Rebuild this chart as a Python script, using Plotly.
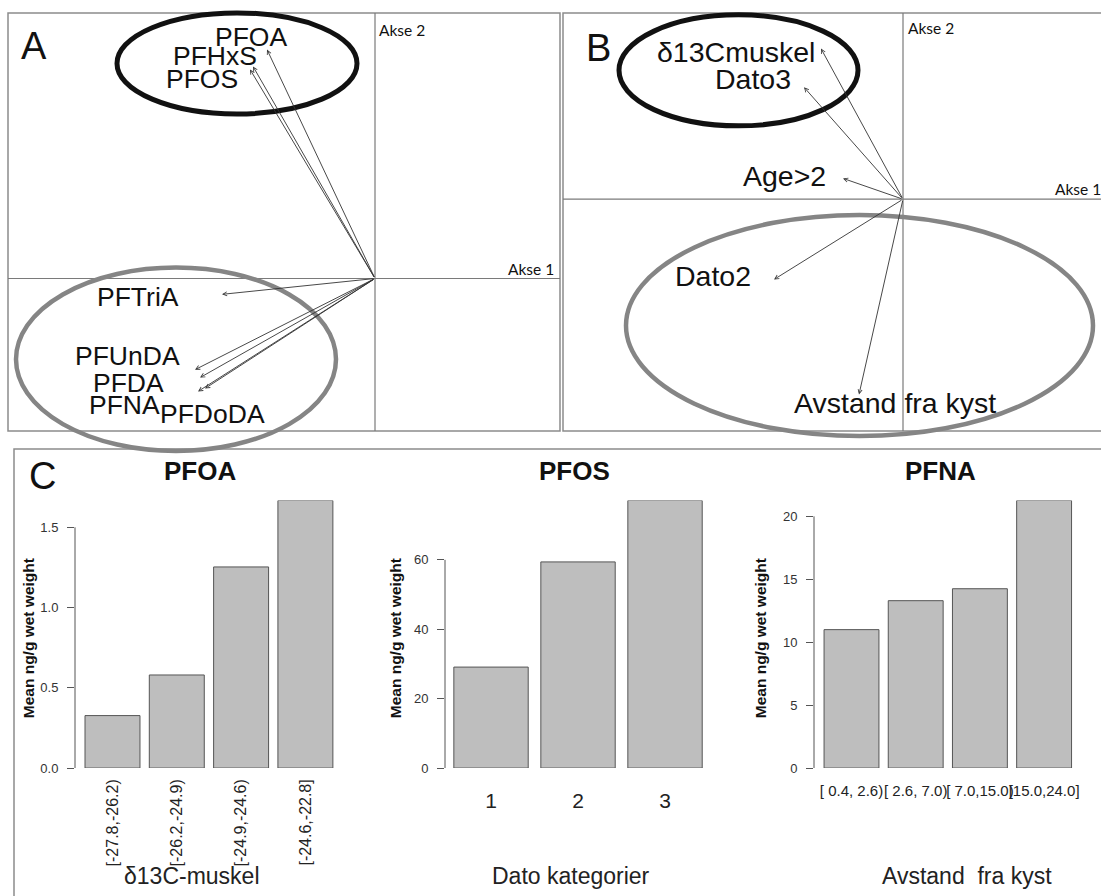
import plotly.graph_objects as go

W, H = 1101, 896
FONT = "Liberation Sans, Arial, sans-serif"

# ---------------- data ----------------
# Panel A: PCA loadings (Akse 1, Akse 2)
a_vars = ["PFOA", "PFHxS", "PFOS", "PFTriA", "PFUnDA", "PFDA", "PFNA", "PFDoDA"]
a_ax1 = [-0.54, -0.61, -0.625, -0.765, -0.90, -0.875, -0.885, -0.85]
a_ax2 = [1.155, 1.07, 1.055, -0.08, -0.46, -0.50, -0.57, -0.555]
a_lab_x = [-0.62, -0.80, -0.865, -1.185, -1.24, -1.235, -1.255, -0.815]
a_lab_y = [1.22, 1.12, 1.005, -0.095, -0.39, -0.525, -0.64, -0.685]

# Panel B: explanatory variables
b_vars = ["δ13Cmuskel", "Dato3", "Age>2", "Dato2", "Avstand fra kyst"]
b_ax1 = [-0.41, -0.495, -0.30, -0.645, -0.22]
b_ax2 = [0.76, 0.565, 0.105, -0.405, -0.985]
b_lab_x = [-0.835, -0.75, -0.595, -0.95, -0.04]
b_lab_y = [0.745, 0.605, 0.115, -0.385, -1.03]

# Group ellipses (x0, x1, y0, y1) in loading units
a_ellipses = [(-1.29, -0.09, 0.83, 1.34, "black"), (-1.795, -0.195, -0.87, 0.055, "gray")]
b_ellipses = [(-1.42, -0.225, 0.37, 0.93, "black"), (-1.385, 0.95, -1.195, -0.08, "gray")]

# Panel C: bar charts
pfoa_cats = ["[-27.8,-26.2)", "[-26.2,-24.9)", "[-24.9,-24.6)", "[-24.6,-22.8]"]
pfoa_vals = [0.327, 0.58, 1.253, 1.667]
pfoa_ticks = [0.0, 0.5, 1.0, 1.5]
pfoa_ticktext = ["0.0", "0.5", "1.0", "1.5"]

pfos_cats = ["1", "2", "3"]
pfos_vals = [29.1, 59.4, 77.1]
pfos_ticks = [0, 20, 40, 60]

pfna_cats = ["[ 0.4, 2.6)", "[ 2.6, 7.0)", "[ 7.0,15.0)", "[15.0,24.0]"]
pfna_vals = [11.0, 13.3, 14.25, 21.26]
pfna_ticks = [0, 5, 10, 15, 20]


def px(x):
    return x / W


def py(y):
    return 1 - y / H


fig = go.Figure()

# ---------------- bars ----------------
bar_style = dict(marker=dict(color="#BEBEBE", line=dict(color="#555555", width=1)), showlegend=False, hoverinfo="skip")
fig.add_trace(go.Bar(x=pfoa_cats, y=pfoa_vals, xaxis="x3", yaxis="y3", **bar_style))
fig.add_trace(go.Bar(x=pfos_cats, y=pfos_vals, xaxis="x4", yaxis="y4", **bar_style))
fig.add_trace(go.Bar(x=pfna_cats, y=pfna_vals, xaxis="x5", yaxis="y5", **bar_style))

# invisible anchors for biplot axes
fig.add_trace(go.Scatter(x=[0], y=[0], mode="markers", marker=dict(size=1, color="rgba(0,0,0,0)"),
                         xaxis="x", yaxis="y", showlegend=False, hoverinfo="skip"))
fig.add_trace(go.Scatter(x=[0], y=[0], mode="markers", marker=dict(size=1, color="rgba(0,0,0,0)"),
                         xaxis="x2", yaxis="y2", showlegend=False, hoverinfo="skip"))

hidden = dict(visible=False, fixedrange=True)
bar_y_common = dict(showgrid=False, zeroline=False, showline=False, ticks="outside", ticklen=7,
                    tickcolor="#555555", tickwidth=1, tickfont=dict(family=FONT, size=13, color="#333333"),
                    ticklabelstandoff=6)
bar_x_common = dict(showgrid=False, zeroline=False, showline=False, ticks="")

fig.update_layout(
    width=W, height=H, margin=dict(l=0, r=0, t=0, b=0),
    paper_bgcolor="white", plot_bgcolor="rgba(0,0,0,0)", showlegend=False,
    bargap=0.145,
    # Panel A biplot
    xaxis=dict(domain=[px(0), px(562)], range=[-1.875, 0.935], anchor="y", **hidden),
    yaxis=dict(domain=[py(470), py(0)], range=[-0.945, 1.405], anchor="x", **hidden),
    # Panel B biplot
    xaxis2=dict(domain=[px(562), px(1101)], range=[-1.705, 0.99], anchor="y2", **hidden),
    yaxis2=dict(domain=[py(470), py(0)], range=[-1.345, 1.005], anchor="x2", **hidden),
    # PFOA
    xaxis3=dict(domain=[px(75), px(340)], range=[-0.583, 3.538], anchor="y3", tickangle=-90,
                ticklabelstandoff=7, tickfont=dict(family=FONT, size=16, color="#222222"), **bar_x_common),
    yaxis3=dict(domain=[py(775), py(505)], range=[0, max(pfoa_vals)], anchor="x3",
                tickvals=pfoa_ticks, ticktext=pfoa_ticktext, **bar_y_common),
    # PFOS
    xaxis4=dict(domain=[px(445), px(710)], range=[-0.529, 2.517], anchor="y4",
                ticklabelstandoff=18, tickfont=dict(family=FONT, size=21, color="#222222"), **bar_x_common),
    yaxis4=dict(domain=[py(775), py(505)], range=[0, max(pfos_vals)], anchor="x4",
                tickvals=pfos_ticks, **bar_y_common),
    # PFNA
    xaxis5=dict(domain=[px(814), px(1080)], range=[-0.584, 3.559], anchor="y5", tickangle=0,
                ticklabelstandoff=12, tickfont=dict(family=FONT, size=15, color="#222222"), **bar_x_common),
    yaxis5=dict(domain=[py(775), py(505)], range=[0, max(pfna_vals)], anchor="x5",
                tickvals=pfna_ticks, **bar_y_common),
)

shapes = []
frame = dict(color="#8c8c8c", width=1.5)
# panel frames
shapes.append(dict(type="rect", xref="paper", yref="paper", x0=px(8), x1=px(560), y0=py(435), y1=py(13), line=frame))
shapes.append(dict(type="rect", xref="paper", yref="paper", x0=px(563), x1=px(1120), y0=py(435), y1=py(13), line=frame))
shapes.append(dict(type="rect", xref="paper", yref="paper", x0=px(14), x1=px(1120), y0=py(920), y1=py(453), line=frame))

axis_line = dict(color="#7a7a7a", width=1.2)
# Panel A axes lines
shapes.append(dict(type="line", xref="paper", yref="y", x0=px(8), x1=px(560), y0=0, y1=0, line=axis_line))
shapes.append(dict(type="line", xref="x", yref="paper", x0=0, x1=0, y0=py(435), y1=py(13), line=axis_line))
# Panel B axes lines
shapes.append(dict(type="line", xref="paper", yref="y2", x0=px(563), x1=px(1101), y0=0, y1=0, line=axis_line))
shapes.append(dict(type="line", xref="x2", yref="paper", x0=0, x1=0, y0=py(435), y1=py(13), line=axis_line))

ell_col = {"black": ("#111111", 5), "gray": ("#858585", 4.5)}
for (x0, x1, y0, y1, c) in a_ellipses:
    shapes.append(dict(type="circle", xref="x", yref="y", x0=x0, x1=x1, y0=y0, y1=y1,
                       line=dict(color=ell_col[c][0], width=ell_col[c][1]), layer="above"))
for (x0, x1, y0, y1, c) in b_ellipses:
    shapes.append(dict(type="circle", xref="x2", yref="y2", x0=x0, x1=x1, y0=y0, y1=y1,
                       line=dict(color=ell_col[c][0], width=ell_col[c][1]), layer="above"))

# bar chart y-axis lines (span tick range only)
for ax, top in (("3", pfoa_ticks[-1]), ("4", pfos_ticks[-1]), ("5", pfna_ticks[-1])):
    shapes.append(dict(type="line", xref=f"x{ax} domain", yref=f"y{ax}", x0=0, x1=0, y0=0, y1=top,
                       line=dict(color="#555555", width=1)))

fig.update_layout(shapes=shapes)

ann = []
# arrows
for xs, ys, xr, yr in ((a_ax1, a_ax2, "x", "y"), (b_ax1, b_ax2, "x2", "y2")):
    for vx, vy in zip(xs, ys):
        ann.append(dict(x=vx, y=vy, ax=0, ay=0, xref=xr, yref=yr, axref=xr, ayref=yr, text="",
                        showarrow=True, arrowhead=5, arrowsize=0.9, arrowwidth=0.9, arrowcolor="#333333"))
# variable labels
for names, lx, ly, xr, yr, fs in ((a_vars, a_lab_x, a_lab_y, "x", "y", 26.5),
                                  (b_vars, b_lab_x, b_lab_y, "x2", "y2", 28.5)):
    for n, tx, ty in zip(names, lx, ly):
        ann.append(dict(x=tx, y=ty, xref=xr, yref=yr, text=n, showarrow=False,
                        font=dict(family=FONT, size=fs, color="#111111"), xanchor="center", yanchor="middle"))

akse_font = dict(family="Lato, Open Sans, sans-serif", size=15.5, color="#111111")
ann += [
    dict(x=px(377), y=py(30), xref="paper", yref="paper", text="Akse 2", showarrow=False, xanchor="left", yanchor="middle", font=akse_font),
    dict(x=px(556), y=py(271), xref="paper", yref="paper", text="Akse 1", showarrow=False, xanchor="right", yanchor="middle", font=akse_font),
    dict(x=px(906), y=py(28), xref="paper", yref="paper", text="Akse 2", showarrow=False, xanchor="left", yanchor="middle", font=akse_font),
    dict(x=px(1053), y=py(191), xref="paper", yref="paper", text="Akse 1", showarrow=False, xanchor="left", yanchor="middle", font=akse_font),
]

panel_font = dict(family=FONT, size=38, color="#111111")
for lab, x, y in (("A", 34, 46), ("B", 598, 48), ("C", 42, 480)):
    ann.append(dict(x=px(x), y=py(y), xref="paper", yref="paper", text=lab, showarrow=False,
                    xanchor="center", yanchor="middle", font=panel_font))

title_font = dict(family=FONT, size=26, color="#111111")
for t, x in (("PFOA", 200), ("PFOS", 574), ("PFNA", 940)):
    ann.append(dict(x=px(x), y=py(475), xref="paper", yref="paper", text=f"<b>{t}</b>", showarrow=False,
                    xanchor="center", yanchor="middle", font=title_font))

for x in (28, 395, 760):
    ann.append(dict(x=px(x), y=py(644), xref="paper", yref="paper", text="<b>Mean ng/g wet weight</b>",
                    showarrow=False, textangle=-90, xanchor="center", yanchor="middle",
                    font=dict(family=FONT, size=15.5, color="#111111")))

xlab_font = dict(family=FONT, size=23, color="#222222")
for t, x in (("δ13C-muskel", 192), ("Dato kategorier", 571), ("Avstand  fra kyst", 967)):
    ann.append(dict(x=px(x), y=py(884), xref="paper", yref="paper", text=t, showarrow=False,
                    xanchor="center", yanchor="middle", font=xlab_font))

fig.update_layout(annotations=ann)

fig.write_html("out.html", config={"displayModeBar": False},
               post_script="document.body.style.margin='0px';document.body.style.overflow='hidden';")
